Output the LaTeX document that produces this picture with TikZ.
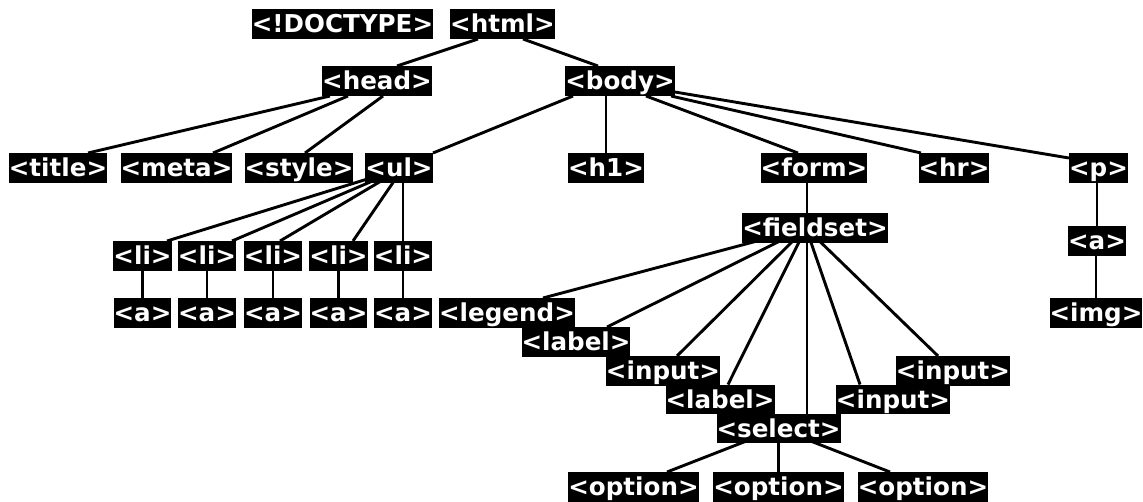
\documentclass[tikz,border=0pt]{standalone}
\usepackage{fontspec}
\newfontfamily\tagfont{DejaVu Sans}
\pgfdeclarelayer{background}
\pgfsetlayers{background,main}
\begin{document}
\begin{tikzpicture}[x=1pt,y=-1pt,
  tag/.style={fill=black, text=white, inner xsep=0pt, inner ysep=0.3pt, text height=23pt, text depth=6pt,
    font=\tagfont\bfseries\fontsize{24.6pt}{28pt}\selectfont},
  edge/.style={draw=black, line width=2.9pt}]
\useasboundingbox (0,0) rectangle (1143,501);
% row 1
\node[tag] (doctype) at (342.5,24) {<!DOCTYPE>};
\node[tag] (html) at (502.5,24) {<html>};
% row 2
\node[tag] (head) at (377,81) {<head>};
\node[tag] (body) at (620,81) {<body>};
% row 3
\node[tag] (title) at (58,168) {<title>};
\node[tag] (meta) at (176.5,168) {<meta>};
\node[tag] (style) at (299,168) {<style>};
\node[tag] (ul) at (399,168) {<ul>};
\node[tag] (h1) at (606,168) {<h1>};
\node[tag] (form) at (814,168) {<form>};
\node[tag] (hr) at (954,168) {<hr>};
\node[tag] (p) at (1098.5,168) {<p>};
% li row
\node[tag] (li1) at (142.5,256) {<li>};
\node[tag] (li2) at (207,256) {<li>};
\node[tag] (li3) at (273,256) {<li>};
\node[tag] (li4) at (338.5,256) {<li>};
\node[tag] (li5) at (403,256) {<li>};
\node[tag] (a1) at (142.5,313) {<a>};
\node[tag] (a2) at (207,313) {<a>};
\node[tag] (a3) at (273,313) {<a>};
\node[tag] (a4) at (338.5,313) {<a>};
\node[tag] (a5) at (403,313) {<a>};
% form subtree
\node[tag] (fs) at (815,228) {<fieldset>};
\node[tag] (legend) at (507,313) {<legend>};
\node[tag] (label1) at (576,342) {<label>};
\node[tag] (input1) at (663,371) {<input>};
\node[tag] (label2) at (720,399.5) {<label>};
\node[tag] (select) at (778.5,428.5) {<select>};
\node[tag] (input2) at (893,399.5) {<input>};
\node[tag] (input3) at (953,371) {<input>};
\node[tag] (opt1) at (633.5,487) {<option>};
\node[tag] (opt2) at (778.5,487) {<option>};
\node[tag] (opt3) at (923,487) {<option>};
% p subtree
\node[tag] (pa) at (1097,241) {<a>};
\node[tag] (img) at (1096,313) {<img>};

\begin{pgfonlayer}{background}
\draw[edge] ([xshift=-24.5pt]html.south) -- ([xshift=20pt]head.north);
\draw[edge] ([xshift=20.5pt]html.south) -- ([xshift=-22pt]body.north);
\draw[edge] ([xshift=-47pt]head.south) -- ([xshift=30pt]title.north);
\draw[edge] ([xshift=-29pt]head.south) -- ([xshift=36.5pt]meta.north);
\draw[edge] ([xshift=6pt]head.south) -- ([xshift=6pt]style.north);
\draw[edge] ([xshift=-47pt]body.south) -- ([xshift=34pt]ul.north);
\draw[edge] (h1.north) -- (h1.north |- body.south);
\draw[edge] ([xshift=26pt]body.south) -- ([xshift=-16pt]form.north);
\draw[edge] ([xshift=51pt]body.south) -- ([xshift=-33pt]hr.north);
\draw[edge] ([yshift=-11pt]body.east) -- ([yshift=10pt]p.west);
\draw[edge] ([xshift=4pt]ul.center) -- ([xshift=24.5pt]li1.north);
\draw[edge] ([xshift=4pt]ul.center) -- ([xshift=25pt]li2.north);
\draw[edge] ([xshift=4pt]ul.center) -- ([xshift=7pt]li3.north);
\draw[edge] ([xshift=4pt]ul.center) -- ([xshift=14.5pt]li4.north);
\draw[edge] ([xshift=4pt]ul.center) -- (li5.north);
\draw[edge] (li1.south) -- (a1.north);
\draw[edge] (li2.south) -- (a2.north);
\draw[edge] (li3.south) -- (a3.north);
\draw[edge] (li4.south) -- (a4.north);
\draw[edge] (li5.south) -- (a5.north);
\draw[edge] ([xshift=-8pt]fs.north) -- ([xshift=-8pt]fs.north |- form.south);
\draw[edge] ([xshift=-9pt]fs.center) -- ([xshift=36pt]legend.north);
\draw[edge] ([xshift=-9pt]fs.center) -- ([xshift=31pt]label1.north);
\draw[edge] ([xshift=-9pt]fs.center) -- ([xshift=14pt]input1.north);
\draw[edge] ([xshift=-9pt]fs.center) -- ([xshift=8pt]label2.north);
\draw[edge] ([xshift=-8pt]fs.south) -- ([xshift=28.5pt]select.north);
\draw[edge] ([xshift=-9pt]fs.center) -- ([xshift=-33pt]input2.north);
\draw[edge] ([xshift=-9pt]fs.center) -- ([xshift=-15pt]input3.north);
\draw[edge] (select.center) -- ([xshift=33.5pt]opt1.north);
\draw[edge] (select.center) -- (opt2.north);
\draw[edge] (select.center) -- ([xshift=-33pt]opt3.north);
\draw[edge] (pa.north) -- (pa.north |- p.south);
\draw[edge] (img.north) -- (img.north |- pa.south);
\end{pgfonlayer}
\end{tikzpicture}
\end{document}
